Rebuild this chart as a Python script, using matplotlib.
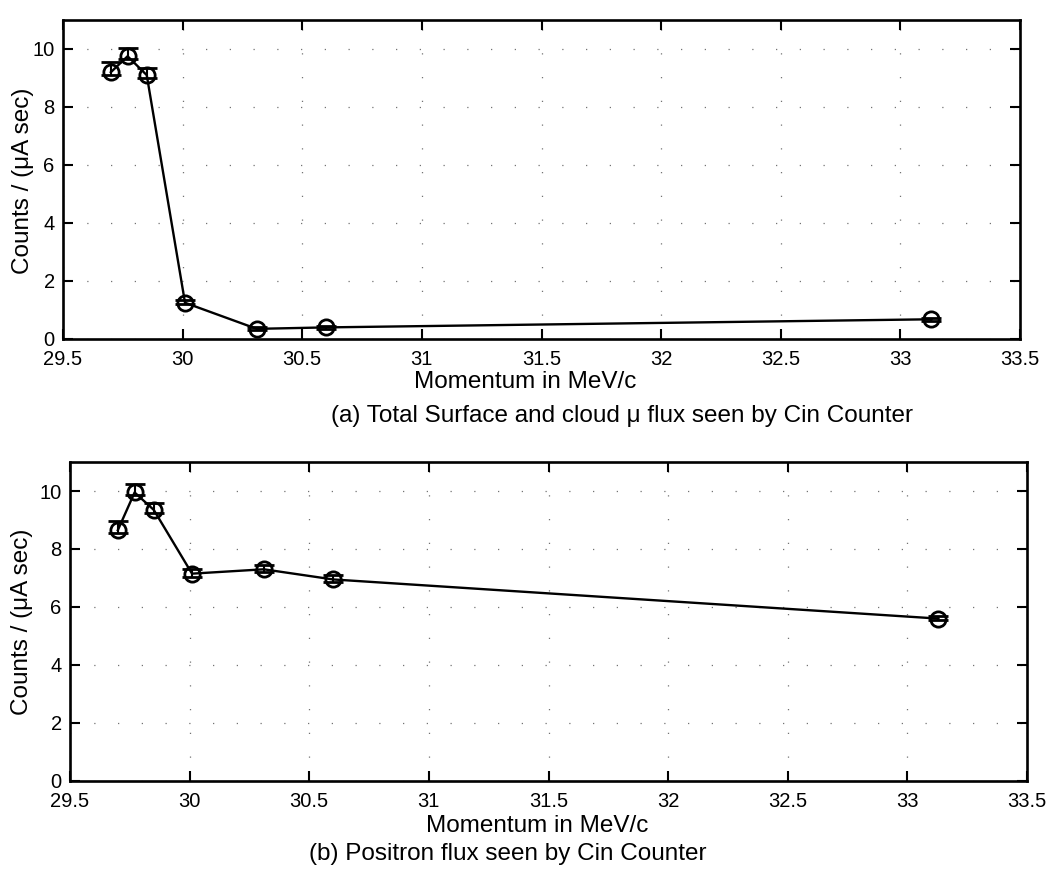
import matplotlib
matplotlib.use('Agg')
import matplotlib.pyplot as plt

plt.rcParams['font.family'] = ['Liberation Sans', 'DejaVu Sans']
TICKSIZE = 14.5
LABELSIZE = 17.5
W, H = 1050, 873

# momentum settings (MeV/c)
momentum = [29.70, 29.77, 29.85, 30.01, 30.31, 30.60, 33.13]

# (a) surface + cloud muon flux
mu_flux = [9.2, 9.75, 9.1, 1.25, 0.35, 0.4, 0.68]
mu_err_hi = [0.35, 0.3, 0.25, 0.1, 0.05, 0.05, 0.05]
mu_err_lo = [0.1, 0.1, 0.1, 0.05, 0.05, 0.05, 0.05]

# (b) positron flux
pos_flux = [8.65, 9.95, 9.35, 7.15, 7.3, 6.95, 5.6]
pos_err_hi = [0.3, 0.3, 0.25, 0.15, 0.15, 0.15, 0.1]
pos_err_lo = [0.1, 0.1, 0.1, 0.1, 0.1, 0.1, 0.05]

xticks = [29.5, 30, 30.5, 31, 31.5, 32, 32.5, 33, 33.5]
xticklabels = ['29.5', '30', '30.5', '31', '31.5', '32', '32.5', '33', '33.5']
yticks = [0, 2, 4, 6, 8, 10]

captions = ['(a) Total Surface and cloud \u03bc flux seen by Cin Counter',
            '(b) Positron flux seen by Cin Counter']

fig = plt.figure(figsize=(W / 100, H / 100), dpi=100)
ax1 = fig.add_axes([63 / W, 1 - 339 / H, 957 / W, 319 / H])
ax2 = fig.add_axes([70 / W, 1 - 781 / H, 957 / W, 319 / H])

# pixel positions of the label texts (x centre, y centre)
xlabel_pos = [(525, 382), (537, 826)]
caption_pos = [(622, 416), (508, 854)]
ylabel_pos = [(23, 181), (22, 622)]

panels = [(ax1, mu_flux, mu_err_lo, mu_err_hi),
          (ax2, pos_flux, pos_err_lo, pos_err_hi)]

for i, (ax, y, lo, hi) in enumerate(panels):
    ax.errorbar(momentum, y, yerr=[lo, hi], color='black', linewidth=1.7,
                marker='o', markersize=11, markerfacecolor='none',
                markeredgewidth=2.0, capsize=7, elinewidth=1.5, capthick=2.0)
    ax.set_xlim(29.5, 33.5)
    ax.set_ylim(0, 11)
    ax.set_xticks(xticks)
    ax.set_xticklabels(xticklabels)
    ax.set_yticks(yticks)
    # sparse dotted grid like the scanned original
    ax.grid(True, color='0.45', linestyle=(0, (1, 18)), linewidth=0.9)
    ax.tick_params(direction='in', top=True, right=True, length=7, width=1.5,
                   labelsize=TICKSIZE)
    ax.tick_params(axis='x', pad=8)
    ax.tick_params(axis='y', pad=6)
    for s in ax.spines.values():
        s.set_linewidth(1.9)

    xx, yy = xlabel_pos[i]
    fig.text(xx / W, 1 - yy / H, 'Momentum in MeV/c', ha='center', va='center',
             fontsize=LABELSIZE)
    xx, yy = caption_pos[i]
    fig.text(xx / W, 1 - yy / H, captions[i], ha='center', va='center',
             fontsize=LABELSIZE)
    xx, yy = ylabel_pos[i]
    fig.text(xx / W, 1 - yy / H, 'Counts / (\u03bcA sec)', ha='center',
             va='center', rotation=90, fontsize=LABELSIZE)

fig.savefig('out.png', dpi=100)
